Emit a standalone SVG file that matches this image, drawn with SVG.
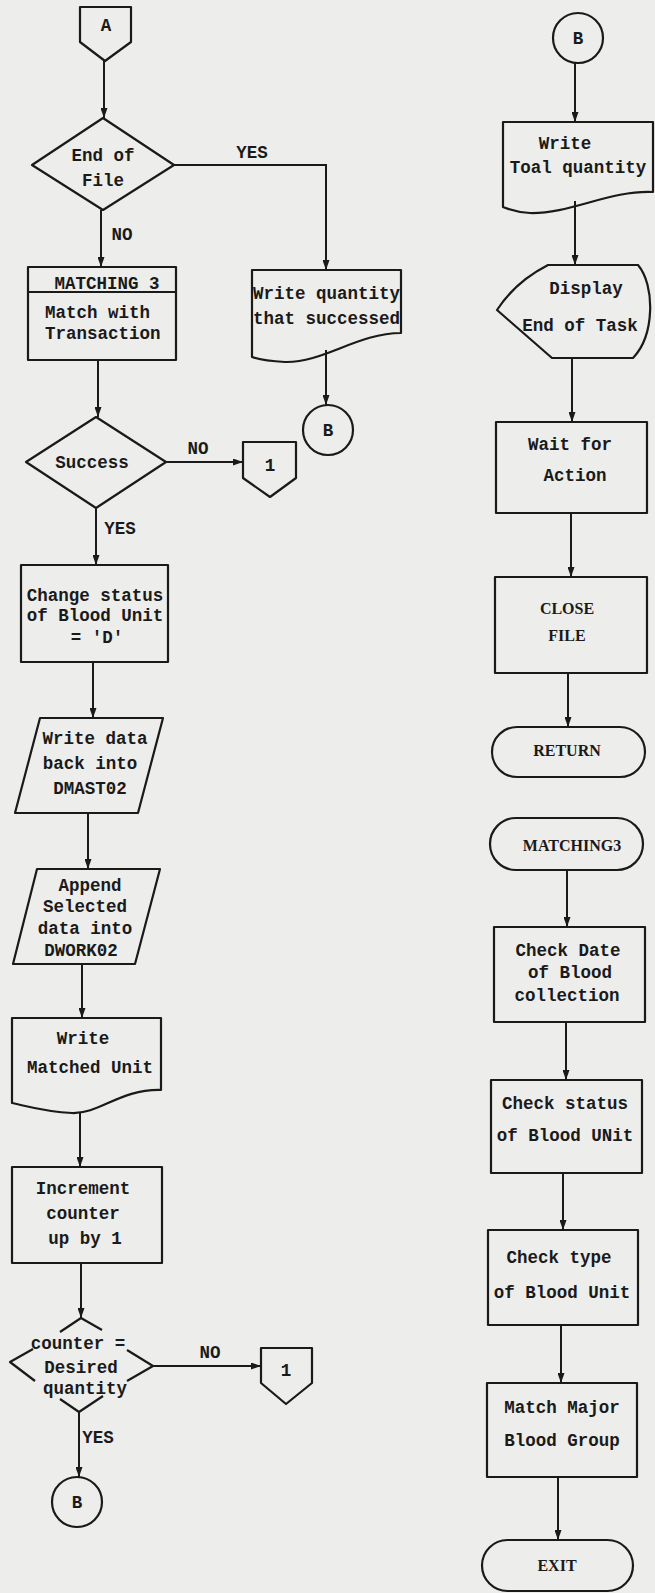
<svg xmlns="http://www.w3.org/2000/svg" width="655" height="1593" viewBox="0 0 655 1593">
<defs>
<marker id="arr" markerUnits="userSpaceOnUse" markerWidth="10" markerHeight="7" refX="10" refY="3.5" orient="auto">
<path d="M0,0 L10,3.5 L0,7 Z" fill="#1a1a1a"/>
</marker>
<style>
.s{fill:none;stroke:#1a1a1a;stroke-width:2.2;stroke-linejoin:round}
.c{fill:none;stroke:#1a1a1a;stroke-width:2;marker-end:url(#arr)}
.t{font-family:"Liberation Mono","Courier New",monospace;font-size:17.5px;font-weight:bold;fill:#1a1a1a;text-anchor:middle}
.ts{font-family:"Liberation Mono","Courier New",monospace;font-size:17.5px;font-weight:bold;fill:#1a1a1a;text-anchor:start}
.r{font-family:"Liberation Serif","Times New Roman",serif;font-size:16px;font-weight:bold;fill:#1a1a1a;text-anchor:middle}
</style>
</defs>
<rect x="0" y="0" width="655" height="1593" fill="#ededeb"/>

<g id="connectors">
<path class="c" d="M104,61 V118"/>
<path class="c" d="M101,210 V267"/>
<path class="c" d="M174,165 H326 V270"/>
<path class="c" d="M98,360 V417"/>
<path class="c" d="M166,462 H243"/>
<path class="c" d="M326,350 V405"/>
<path class="c" d="M96,508 V565"/>
<path class="c" d="M93,662 V718"/>
<path class="c" d="M88,813 V869"/>
<path class="c" d="M82,964 V1018"/>
<path class="c" d="M80,1112 V1167"/>
<path class="c" d="M81,1263 V1318"/>
<path class="c" d="M153,1366 H261"/>
<path class="c" d="M79,1412 V1477"/>
<path class="c" d="M575,63 V122"/>
<path class="c" d="M575,201 V265"/>
<path class="c" d="M572,358 V422"/>
<path class="c" d="M571,513 V577"/>
<path class="c" d="M568,673 V727"/>
<path class="c" d="M567,870 V927"/>
<path class="c" d="M566,1022 V1080"/>
<path class="c" d="M563,1173 V1230"/>
<path class="c" d="M561,1325 V1383"/>
<path class="c" d="M558,1477 V1540"/>
<text class="t" x="252" y="158">YES</text>
<text class="t" x="122" y="240">NO</text>
<text class="t" x="198" y="454">NO</text>
<text class="t" x="120" y="534">YES</text>
<text class="t" x="210" y="1358">NO</text>
<text class="t" x="98" y="1443">YES</text>
</g>

<g id="connA">
<path class="s" d="M80,7 H131 V42 L105,61 L80,42 Z"/>
<text class="t" x="106" y="31">A</text>
</g>

<g id="endOfFile">
<path class="s" d="M103,118 L174,165 L103,210 L32,165 Z"/>
<text class="t" x="103" y="161">End of</text>
<text class="t" x="103" y="186">File</text>
</g>

<g id="matching">
<rect class="s" x="28" y="267" width="148" height="93"/>
<path class="s" d="M28,292 H176"/>
<text class="t" x="107" y="289">MATCHING 3</text>
<text class="ts" x="45" y="318">Match with</text>
<text class="ts" x="45" y="339">Transaction</text>
</g>

<g id="writeQuantity">
<path class="s" d="M252,270 H401 V333 C358,333 323,363 285,362 C269,361 258,359 252,357 Z"/>
<text class="ts" x="253" y="299">Write quantity</text>
<text class="ts" x="253" y="324">that successed</text>
</g>

<g id="circleB1">
<circle class="s" cx="328" cy="430" r="25"/>
<text class="t" x="328" y="436">B</text>
</g>

<g id="success">
<path class="s" d="M96,417 L166,462 L96,508 L26,462 Z"/>
<text class="t" x="92" y="468">Success</text>
</g>

<g id="conn1a">
<path class="s" d="M243,442 H296 V478 L270,497 L243,478 Z"/>
<text class="t" x="270" y="471">1</text>
</g>

<g id="changeStatus">
<rect class="s" x="21" y="565" width="147" height="97"/>
<text class="t" x="95" y="601">Change status</text>
<text class="t" x="95" y="621">of Blood Unit</text>
<text class="t" x="97" y="643">= 'D'</text>
</g>

<g id="writeData">
<path class="s" d="M40,718 L163,718 L138,813 L15,813 Z"/>
<text class="t" x="95" y="744">Write data</text>
<text class="t" x="90" y="769">back into</text>
<text class="t" x="90" y="794">DMAST02</text>
</g>

<g id="append">
<path class="s" d="M37,869 L160,869 L135,964 L13,964 Z"/>
<text class="t" x="90" y="891">Append</text>
<text class="t" x="85" y="912">Selected</text>
<text class="t" x="85" y="934">data into</text>
<text class="t" x="81" y="956">DWORK02</text>
</g>

<g id="writeMatched">
<path class="s" d="M12,1018 H161 V1090 C120,1089 100,1114 72,1113 C47,1112 26,1106 12,1103 Z"/>
<text class="t" x="83" y="1044">Write</text>
<text class="t" x="90" y="1073">Matched Unit</text>
</g>

<g id="increment">
<rect class="s" x="12" y="1167" width="150" height="96"/>
<text class="t" x="83" y="1194">Increment</text>
<text class="t" x="83" y="1219">counter</text>
<text class="t" x="85" y="1244">up by 1</text>
</g>

<g id="counterDecision">
<path class="s" d="M60,1332 L81,1318 L102,1330 M33,1349 L10,1362 L35,1381 M127,1350 L153,1366 L127,1381 M60,1399 L79,1412 L103,1396"/>
<text class="t" x="78" y="1349">counter =</text>
<text class="t" x="81" y="1373">Desired</text>
<text class="t" x="85" y="1394">quantity</text>
</g>

<g id="conn1b">
<path class="s" d="M261,1348 H312 V1383 L286,1404 L261,1383 Z"/>
<text class="t" x="286" y="1376">1</text>
</g>

<g id="circleB2">
<circle class="s" cx="77" cy="1502" r="25"/>
<text class="t" x="77" y="1508">B</text>
</g>

<g id="circleB3">
<circle class="s" cx="578" cy="38" r="25"/>
<text class="t" x="578" y="44">B</text>
</g>

<g id="writeTotal">
<path class="s" d="M503,122 H653 V192 C610,190 570,214 530,213 C515,212 508,209 503,207 Z"/>
<text class="t" x="565" y="149">Write</text>
<text class="t" x="578" y="173">Toal quantity</text>
</g>

<g id="display">
<path class="s" d="M548,265 H638 C655,285 655,335 633,358 H552 L497,310 Q515,282 548,265 Z"/>
<text class="t" x="586" y="294">Display</text>
<text class="t" x="580" y="331">End of Task</text>
</g>

<g id="wait">
<rect class="s" x="496" y="422" width="151" height="91"/>
<text class="t" x="570" y="450">Wait for</text>
<text class="t" x="575" y="481">Action</text>
</g>

<g id="close">
<rect class="s" x="495" y="577" width="152" height="96"/>
<text class="r" x="567" y="614">CLOSE</text>
<text class="r" x="567" y="641">FILE</text>
</g>

<g id="return">
<rect class="s" x="492" y="727" width="153" height="50" rx="25"/>
<text class="r" x="567" y="756">RETURN</text>
</g>

<g id="matching3">
<rect class="s" x="490" y="818" width="153" height="52" rx="26"/>
<text class="r" x="572" y="851">MATCHING3</text>
</g>

<g id="checkDate">
<rect class="s" x="494" y="927" width="151" height="95"/>
<text class="t" x="568" y="956">Check Date</text>
<text class="t" x="570" y="978">of Blood</text>
<text class="t" x="567" y="1001">collection</text>
</g>

<g id="checkStatus">
<rect class="s" x="491" y="1080" width="151" height="93"/>
<text class="t" x="565" y="1109">Check status</text>
<text class="t" x="565" y="1141">of Blood UNit</text>
</g>

<g id="checkType">
<rect class="s" x="488" y="1230" width="150" height="95"/>
<text class="t" x="559" y="1263">Check type</text>
<text class="t" x="562" y="1298">of Blood Unit</text>
</g>

<g id="matchMajor">
<rect class="s" x="487" y="1383" width="150" height="94"/>
<text class="t" x="562" y="1413">Match Major</text>
<text class="t" x="562" y="1446">Blood Group</text>
</g>

<g id="exit">
<rect class="s" x="482" y="1540" width="151" height="51" rx="25.5"/>
<text class="r" x="557" y="1571">EXIT</text>
</g>
</svg>
